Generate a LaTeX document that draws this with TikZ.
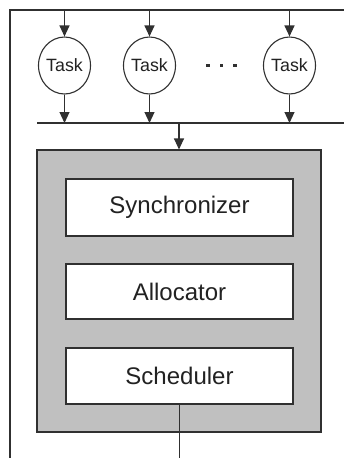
\documentclass[tikz,border=0pt]{standalone}
\usepackage{fontspec}
\setmainfont{Liberation Sans}
\usetikzlibrary{arrows.meta,shapes.geometric}
\definecolor{linegray}{HTML}{303030}
\definecolor{boxgray}{HTML}{C0C0C0}
\definecolor{textgray}{HTML}{222222}
\begin{document}
\begin{tikzpicture}[x=1pt,y=-1pt,
  line/.style={draw=linegray,line width=1.1pt},
  flow/.style={line,-{Triangle[length=11pt,width=10pt]}},
  task/.style={ellipse,draw=linegray,line width=1.1pt,fill=white,
    minimum width=52pt,minimum height=57pt,inner sep=0pt,
    text=textgray,font=\fontsize{17.8}{20}\selectfont},
  stage/.style={rectangle,draw=linegray,line width=1.1pt,fill=white,
    minimum width=227pt,minimum height=56pt,inner sep=0pt,
    text=textgray,font=\fontsize{24}{27}\selectfont},
  dot/.style={rectangle,fill=linegray,minimum size=3.8pt,inner sep=0pt},
]
\useasboundingbox (0,0) rectangle (344,458);

% outer frame: top input line and left edge
\coordinate (tl) at (10,10);
\coordinate (tr) at (344,10);
\coordinate (bl) at (10,458);
\draw[line] (bl) -- (tl) -- (tr);

% tasks
\node[task] (t1) at (64.5,65.5) {Task};
\node[task] (t2) at (149.5,65.5) {Task};
\node[task] (t3) at (289.5,65.5) {Task};

% ellipsis between tasks
\node[dot] (d1) at (208,65.5) {};
\node[dot] (d2) at (221.5,65.5) {};
\node[dot] (d3) at (235,65.5) {};

% output bus
\coordinate (busL) at (37,123);
\coordinate (busR) at (344,123);
\draw[line] (busL) -- (busR);

% task inputs and outputs
\foreach \t in {t1,t2,t3}{
  \draw[flow] (\t.north |- tl) -- (\t.north);
  \draw[flow] (\t.south) -- (\t.south |- busL);
}

% core with its three stages
\node[rectangle,draw=linegray,line width=1.1pt,fill=boxgray,
  minimum width=284pt,minimum height=282pt,inner sep=0pt] (core) at (179,291) {};
\node[stage,minimum height=57pt] (sync) at (179.5,207.5) {Synchronizer};
\node[stage,minimum height=55pt] (alloc) at (179.5,291.5) {Allocator};
\node[stage] (sched) at (179.5,376) {Scheduler};

\draw[flow] (core.north |- busL) -- (core.north);
\draw[line] (sched.south) -- (sched.south |- bl);
\end{tikzpicture}
\end{document}
